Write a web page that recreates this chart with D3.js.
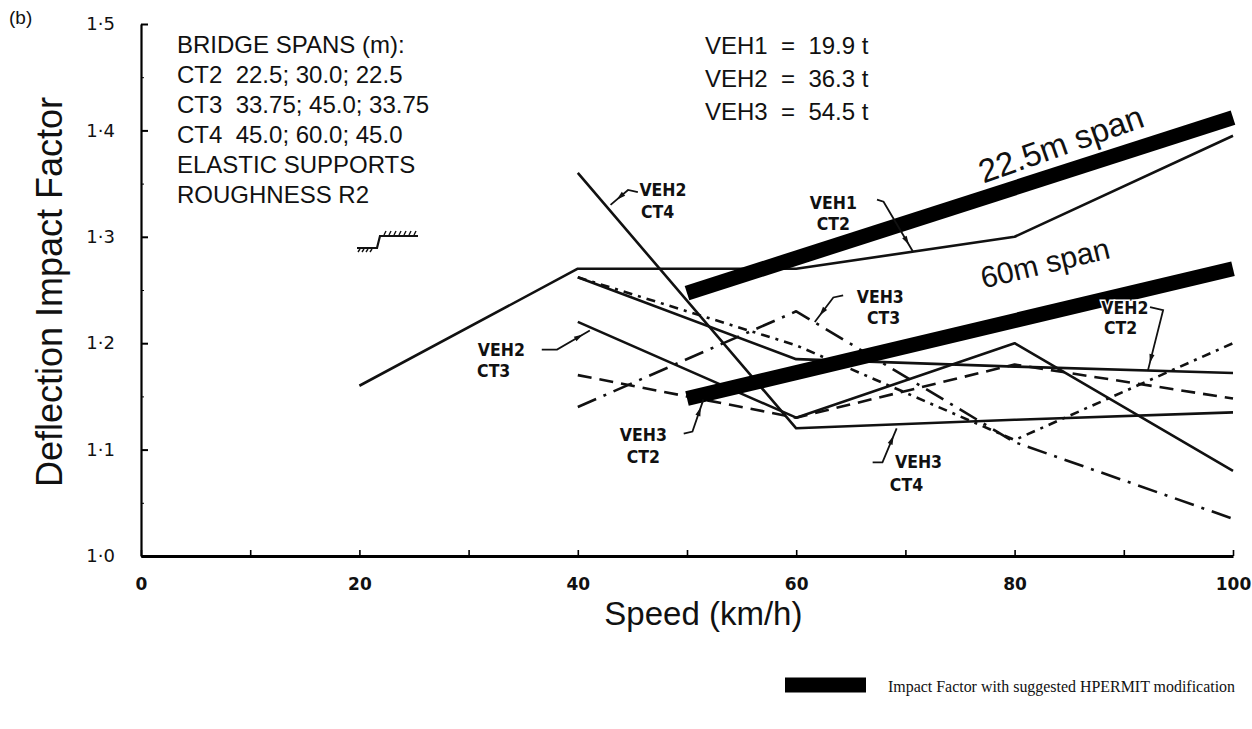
<!doctype html>
<html lang="en">
<head>
<meta charset="utf-8">
<title>Deflection Impact Factor</title>
<script src="https://d3js.org/d3.v7.min.js"></script>
<style>
  body { margin: 0; background: #fff; }
  svg { display: block; }
  text { fill: #111; }
</style>
</head>
<body>
<svg id="chart" width="1252" height="729"></svg>
<script>
// curves: [speed km/h, deflection impact factor]
const veh1Ct2 = [[20, 1.16], [40, 1.27], [60, 1.27], [80, 1.30], [100, 1.395]]
const veh2Ct4 = [[40, 1.36], [60, 1.12], [80, 1.128], [100, 1.135]]
const veh2Ct2 = [[40, 1.262], [60, 1.185], [80, 1.178], [100, 1.172]]
const veh2Ct3 = [[40, 1.22], [60, 1.13], [80, 1.20], [100, 1.08]]
const veh3Ct2 = [[40, 1.17], [60, 1.13], [80, 1.18], [100, 1.148]]
const veh3Ct3 = [[40, 1.14], [60, 1.23], [80, 1.107], [100, 1.035]]
const veh3Ct4 = [[40, 1.262], [60, 1.198], [80, 1.109], [100, 1.20]]

// suggested HPERMIT modification
const span225 = [[50, 1.247], [100, 1.412]]
const span60 = [[50, 1.148], [100, 1.27]]

const xTicks = [0, 10, 20, 30, 40, 50, 60, 70, 80, 90, 100]
const yTicks = [1.0, 1.1, 1.2, 1.3, 1.4, 1.5]
const yMinor = [1.05, 1.15, 1.25, 1.35, 1.45]

const infoLines = ['BRIDGE SPANS (m):', 'CT2  22.5; 30.0; 22.5', 'CT3  33.75; 45.0; 33.75',
                   'CT4  45.0; 60.0; 45.0', 'ELASTIC SUPPORTS', 'ROUGHNESS R2']
const vehLines = ['VEH1  =  19.9 t', 'VEH2  =  36.3 t', 'VEH3  =  54.5 t']

const svg = d3.select('#chart')
const x = d3.scaleLinear().domain([0, 100]).range([141, 1233])
const y = d3.scaleLinear().domain([1.0, 1.5]).range([556, 24])

const line = d3.line().x(d => x(d[0])).y(d => y(d[1]))

// axes
const yAxis = svg.append('g').attr('transform', `translate(${x(0)},0)`)
  .call(d3.axisLeft(y).tickValues(yTicks).tickSizeInner(-7).tickSizeOuter(0).tickPadding(26)
    .tickFormat(d => d3.format('.1f')(d).replace('.', '·')))
yAxis.select('.domain').attr('stroke-width', 2.2)
yAxis.selectAll('.tick line').attr('stroke-width', 2)
yAxis.selectAll('text').attr('font-family', 'DejaVu Sans').attr('font-size', 18)

svg.append('g').attr('transform', `translate(${x(0)},0)`)
  .call(d3.axisLeft(y).tickValues(yMinor).tickSizeInner(-3).tickSizeOuter(0).tickFormat(''))
  .select('.domain').remove()

const xAxis = svg.append('g').attr('transform', `translate(0,${y(1.0)})`)
  .call(d3.axisBottom(x).tickValues(xTicks).tickSizeInner(-6).tickSizeOuter(0).tickPadding(22)
    .tickFormat(d => d % 20 === 0 ? d : ''))
xAxis.select('.domain').attr('stroke-width', 3)
xAxis.selectAll('.tick line').attr('stroke-width', 1.6)
xAxis.selectAll('text').attr('font-family', 'DejaVu Sans').attr('font-weight', 'bold').attr('font-size', 17)

// axis titles
svg.append('text').attr('transform', `translate(62,${y(1.25) + 2}) rotate(-90)`)
  .attr('text-anchor', 'middle').attr('font-family', 'Liberation Sans').attr('font-size', 36)
  .text('Deflection Impact Factor')
svg.append('text').attr('x', x(51.5)).attr('y', 625)
  .attr('text-anchor', 'middle').attr('font-family', 'Liberation Sans').attr('font-size', 33)
  .text('Speed (km/h)')
svg.append('text').attr('x', 9).attr('y', 24)
  .attr('font-family', 'Liberation Sans').attr('font-size', 19).text('(b)')

// curves
const series = [
  { data: veh1Ct2, dash: null },
  { data: veh2Ct4, dash: null },
  { data: veh2Ct2, dash: null },
  { data: veh2Ct3, dash: null },
  { data: veh3Ct2, dash: '14,8' },
  { data: veh3Ct3, dash: '20,8,3,8' },
  { data: veh3Ct4, dash: '9,6,3,6' }
]
svg.append('g').selectAll('path').data(series).join('path')
  .attr('d', d => line(d.data))
  .attr('fill', 'none').attr('stroke', '#111').attr('stroke-width', 2.6)
  .attr('stroke-linejoin', 'round')
  .attr('stroke-dasharray', d => d.dash)

// thick bands
svg.append('g').selectAll('path').data([span225, span60]).join('path')
  .attr('d', line).attr('fill', 'none').attr('stroke', '#000').attr('stroke-width', 15)

svg.append('text').attr('transform', `translate(1061,144) rotate(-19.5)`)
  .attr('text-anchor', 'middle').attr('dominant-baseline', 'central')
  .attr('font-family', 'Liberation Sans').attr('font-size', 33).text('22.5m span')
svg.append('text').attr('transform', `translate(1045,263) rotate(-13.5)`)
  .attr('text-anchor', 'middle').attr('dominant-baseline', 'central')
  .attr('font-family', 'Liberation Sans').attr('font-size', 30).text('60m span')

// info text
svg.append('g').selectAll('text').data(infoLines).join('text')
  .attr('x', 177).attr('y', (d, i) => 53 + i * 30)
  .attr('font-family', 'Liberation Sans').attr('font-size', 24)
  .style('white-space', 'pre').text(d => d)
svg.append('g').selectAll('text').data(vehLines).join('text')
  .attr('x', 705).attr('y', (d, i) => 54 + i * 33)
  .attr('font-family', 'Liberation Sans').attr('font-size', 24)
  .style('white-space', 'pre').text(d => d)

// curve labels with leaders, in data units
const labels = [
  { t: ['VEH2', 'CT4'], at: [[47.8, 1.344], [47.3, 1.323]], lead: [[45.5, 1.342], [44.6, 1.344], [43.0, 1.330]] },
  { t: ['VEH1', 'CT2'], at: [[63.4, 1.332], [63.4, 1.312]], lead: [[67.4, 1.335], [68.0, 1.333], [70.7, 1.286]] },
  { t: ['VEH3', 'CT3'], at: [[67.7, 1.243], [68.0, 1.224]], lead: [[64.3, 1.245], [63.4, 1.243], [61.7, 1.22]] },
  { t: ['VEH2', 'CT3'], at: [[33.0, 1.194], [32.3, 1.174]], lead: [[36.7, 1.194], [38.1, 1.194], [41.1, 1.212]] },
  { t: ['VEH3', 'CT2'], at: [[46.0, 1.114], [46.0, 1.093]], lead: [[49.7, 1.115], [50.5, 1.117], [51.5, 1.147]] },
  { t: ['VEH3', 'CT4'], at: [[71.2, 1.088], [70.1, 1.067]], lead: [[67.0, 1.088], [67.9, 1.088], [69.2, 1.12]] },
  { t: ['VEH2', 'CT2'], at: [[90.1, 1.233], [89.7, 1.214]], lead: [[92.4, 1.234], [93.6, 1.231], [92.2, 1.174]] }
]
const lab = svg.append('g')
labels.forEach(l => {
  lab.append('path').attr('d', line(l.lead)).attr('fill', 'none')
    .attr('stroke', '#111').attr('stroke-width', 1.8)
  const tip = l.lead[2], prev = l.lead[1]
  const ang = Math.atan2(y(tip[1]) - y(prev[1]), x(tip[0]) - x(prev[0])) * 180 / Math.PI
  lab.append('path').attr('d', 'M0,0 L-9,-2.6 L-9,2.6 Z')
    .attr('transform', `translate(${x(tip[0])},${y(tip[1])}) rotate(${ang}) translate(-8,0)`)
    .attr('fill', '#111')
  l.t.forEach((s, i) => {
    lab.append('text').attr('x', x(l.at[i][0])).attr('y', y(l.at[i][1]))
      .attr('text-anchor', 'middle').attr('dominant-baseline', 'central')
      .attr('font-family', 'DejaVu Sans Condensed').attr('font-weight', 'bold').attr('font-size', 17.5)
      .attr('stroke', '#fff').attr('stroke-width', 3).attr('paint-order', 'stroke')
      .text(s)
  })
})

// support symbol
const sup = svg.append('g').attr('stroke', '#111').attr('fill', 'none')
sup.append('path').attr('d', 'M357,248 H377 L380,236 H418').attr('stroke-width', 2.2)
d3.range(360, 376, 4).forEach(h => sup.append('line')
  .attr('x1', h).attr('y1', 249).attr('x2', h - 2).attr('y2', 252).attr('stroke-width', 1.4))
d3.range(384, 418, 5).forEach(h => sup.append('line')
  .attr('x1', h).attr('y1', 235).attr('x2', h + 2).attr('y2', 231).attr('stroke-width', 1.4))

// legend
svg.append('path').attr('d', 'M785,685 H866').attr('stroke', '#000').attr('stroke-width', 15)
svg.append('text').attr('x', 888).attr('y', 692)
  .attr('font-family', 'Liberation Serif').attr('font-size', 16.5)
  .attr('textLength', 347).attr('lengthAdjust', 'spacingAndGlyphs')
  .text('Impact Factor with suggested HPERMIT modification')
</script>
</body>
</html>
